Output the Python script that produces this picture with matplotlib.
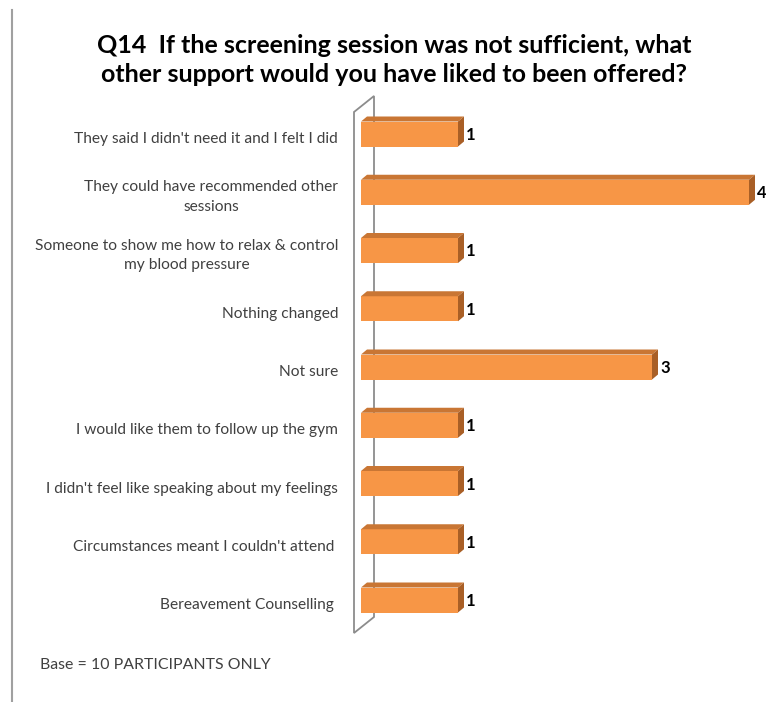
import matplotlib
matplotlib.use("Agg")
import matplotlib.pyplot as plt
from matplotlib.patches import Polygon
from matplotlib.lines import Line2D

categories = [
    "They said I didn't need it and I felt I did",
    "They could have recommended other\nsessions",
    "Someone to show me how to relax & control\nmy blood pressure",
    "Nothing changed",
    "Not sure",
    "I would like them to follow up the gym",
    "I didn't feel like speaking about my feelings",
    "Circumstances meant I couldn't attend ",
    "Bereavement Counselling ",
]
values = [1, 4, 1, 1, 3, 1, 1, 1, 1]
title = "Q14  If the screening session was not sufficient, what\nother support would you have liked to been offered?"
base_note = "Base = 10 PARTICIPANTS ONLY"

FONT = ["Lato", "Liberation Sans", "DejaVu Sans"]

W, H = 766, 702
fig = plt.figure(figsize=(W / 100, H / 100), dpi=100)
fig.patch.set_facecolor("white")

# axes in pixel geometry: x 0..4 -> px 361..749 ; rows spaced 58.25 px starting at y=134
ax_left, ax_right = 361, 749
ax_top, ax_bot = 90, 640
ax = fig.add_axes([ax_left / W, 1 - ax_bot / H, (ax_right - ax_left) / W, (ax_bot - ax_top) / H])
ax.set_xlim(0, 4)
row0, step = 134, 58.25
ax.set_ylim((ax_bot - row0) / step, (ax_top - row0) / step)
ax.axis("off")

px_x = 4 / (ax_right - ax_left)   # data units per px in x
px_y = 1 / step                    # data units per px in y

# 3D wall (outline)
fx, bx = -7 * px_x, 13 * px_x
top_f, top_b = (112 - row0) / step, (96 - row0) / step
bot_f, bot_b = (633 - row0) / step, (617 - row0) / step
wall = Polygon([(fx, top_f), (bx, top_b), (bx, bot_b), (fx, bot_f)], closed=True,
               facecolor="white", edgecolor="#8c8c8c", lw=1.3, clip_on=False, zorder=1)
ax.add_patch(wall)

front = "#F79646"
topc = "#C97634"
sidec = "#A95F26"
bh = 25 / step
dx, dy = 6 * px_x, 5 * px_y
ys = list(range(len(categories)))
ax.barh(ys, values, height=bh, color=front, edgecolor="none", zorder=3)
for y, v in zip(ys, values):
    t = y - bh / 2
    b = y + bh / 2
    ax.add_patch(Polygon([(0, t), (v, t), (v + dx, t - dy), (dx, t - dy)], closed=True,
                         facecolor=topc, edgecolor="none", zorder=3, clip_on=False))
    ax.add_patch(Polygon([(v, t), (v + dx, t - dy), (v + dx, b - dy), (v, b)], closed=True,
                         facecolor=sidec, edgecolor="none", zorder=3, clip_on=False))
    ax.text(v + dx + 2 * px_x, y + 1 * px_y, str(v), ha="left", va="center", fontsize=12,
            fontweight="bold", color="black", family=FONT, clip_on=False)
    ax.text(-23 * px_x, y + 5 * px_y, categories[y], ha="right", va="center", ma="center",
            fontsize=11.2, color="#404040", linespacing=1.5, family=FONT, clip_on=False)

fig.text(394 / W, 1 - 60 / H, title, ha="center", va="center", fontsize=18,
         fontweight="bold", color="black", linespacing=1.3, family=FONT)
fig.text(40 / W, 1 - 665 / H, base_note, ha="left", va="center", fontsize=11.4,
         color="#404040", family=FONT)

fig.add_artist(Line2D([12 / W, 12 / W], [1 - 10 / H, 0], color="#a0a0a0", lw=1.5,
                      transform=fig.transFigure))

fig.savefig("out.png", dpi=100, facecolor="white")
